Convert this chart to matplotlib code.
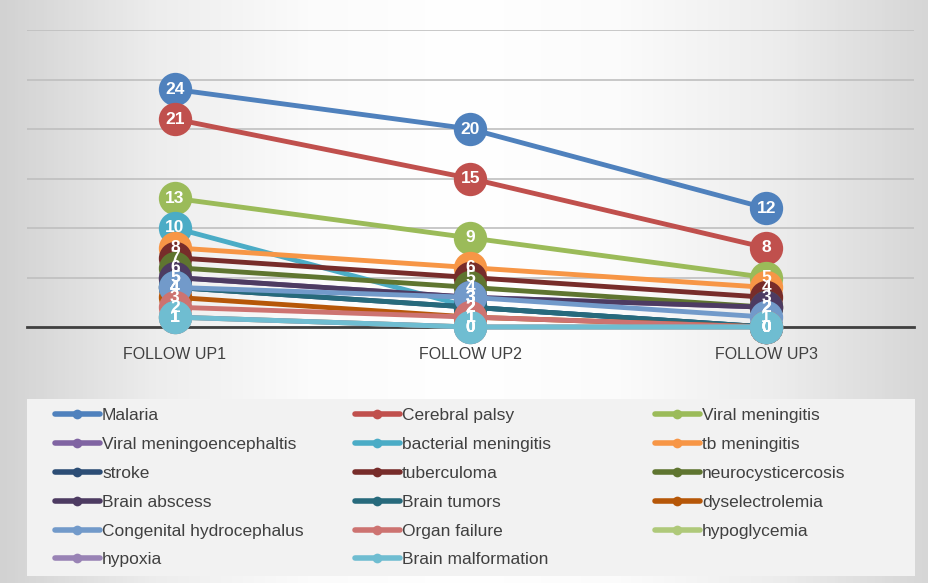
import numpy as np
import matplotlib.pyplot as plt
from matplotlib.colors import LinearSegmentedColormap
from matplotlib.patches import Rectangle

# categories and series
follow_ups = ["FOLLOW UP1", "FOLLOW UP2", "FOLLOW UP3"]

diseases = [
    "Malaria", "Cerebral palsy", "Viral meningitis",
    "Viral meningoencephaltis", "bacterial meningitis", "tb meningitis",
    "stroke", "tuberculoma", "neurocysticercosis",
    "Brain abscess", "Brain tumors", "dyselectrolemia",
    "Congenital hydrocephalus", "Organ failure", "hypoglycemia",
    "hypoxia", "Brain malformation",
]

malaria = [24, 20, 12]
cerebral_palsy = [21, 15, 8]
viral_meningitis = [13, 9, 5]
viral_meningoencephalitis = [5, 3, 2]
bacterial_meningitis = [10, 2, 0]
tb_meningitis = [8, 6, 4]
stroke = [4, 2, 0]
tuberculoma = [7, 5, 3]
neurocysticercosis = [6, 4, 2]
brain_abscess = [5, 3, 2]
brain_tumors = [4, 2, 0]
dyselectrolemia = [3, 1, 0]
congenital_hydrocephalus = [4, 3, 1]
organ_failure = [2, 1, 0]
hypoglycemia = [1, 0, 0]
hypoxia = [1, 0, 0]
brain_malformation = [1, 0, 0]

series = [
    malaria, cerebral_palsy, viral_meningitis, viral_meningoencephalitis,
    bacterial_meningitis, tb_meningitis, stroke, tuberculoma,
    neurocysticercosis, brain_abscess, brain_tumors, dyselectrolemia,
    congenital_hydrocephalus, organ_failure, hypoglycemia, hypoxia,
    brain_malformation,
]

colors = [
    "#4F81BD", "#C0504D", "#9BBB59", "#8064A2", "#4BACC6", "#F79646",
    "#2C4D75", "#772C2A", "#5F7530", "#4D3B62", "#276A7C", "#B65708",
    "#729ACA", "#CD7371", "#AFC97A", "#9983B5", "#6FBDD1",
]

W, H = 929, 583
fig = plt.figure(figsize=(W / 100, H / 100), dpi=100)

# background with a soft grey-to-white gradient
bg = fig.add_axes([0, 0, 1, 1])
cmap = LinearSegmentedColormap.from_list(
    "bg", ["#D2D2D2", "#EDEDED", "#FBFBFB", "#FFFFFF", "#FBFBFB", "#EDEDED",
           "#D6D6D6"])
grad = np.linspace(0, 1, 256).reshape(1, -1)
bg.imshow(grad, cmap=cmap, aspect="auto", extent=[0, W, 0, H])
bg.set_xlim(0, W)
bg.set_ylim(0, H)
bg.axis("off")

ax = fig.add_axes([27 / W, 1 - 327 / H, 887 / W, 297 / H])
ax.patch.set_alpha(0)

x = np.arange(len(follow_ups))
for i, (vals, c) in enumerate(zip(series, colors)):
    ax.plot(x, vals, color=c, lw=3.5, marker="o", ms=24, mew=0,
            solid_capstyle="round", zorder=3 + i, clip_on=False)

# data labels on top of all markers
for vals in series:
    for xi, v in zip(x, vals):
        ax.text(xi, v, str(v), ha="center", va="center", color="white",
                fontsize=12.5, fontweight="bold", zorder=100,
                family="Liberation Sans")

ax.set_xlim(-0.5, 2.5)
ax.set_ylim(0, 30)
ax.set_yticks(range(0, 31, 5))
ax.yaxis.grid(True, color="#BFBFBF", lw=1.2)
ax.set_axisbelow(True)
ax.set_yticklabels([])
ax.set_xticks(x)
ax.set_xticklabels(follow_ups, fontsize=11.5, color="#404040",
                   family="Liberation Sans")
ax.tick_params(left=False, bottom=False, pad=11)
for s in ["top", "left", "right"]:
    ax.spines[s].set_visible(False)
ax.spines["bottom"].set_color("#404040")
ax.spines["bottom"].set_linewidth(2)
ax.spines["bottom"].set_zorder(2)

# legend drawn by hand, row-wise like the original (pixel coordinates)
bg.add_patch(Rectangle((27, H - 576), 888, 177, facecolor="#F2F2F2",
                       edgecolor="none", zorder=1))
col_x = [55, 355, 655]
row_y = [414, 443, 472, 501, 530, 558]
for k, (name, c) in enumerate(zip(diseases, colors)):
    cx = col_x[k % 3]
    cy = H - row_y[k // 3]
    bg.plot([cx, cx + 45], [cy, cy], color=c, lw=4, solid_capstyle="round",
            zorder=2)
    bg.plot([cx + 22.5], [cy], marker="o", ms=7, mew=0, color=c, zorder=3)
    bg.text(cx + 47, cy, name, ha="left", va="center_baseline",
            color="#404040", fontsize=12.5, family="Liberation Sans",
            zorder=3)

fig.savefig("out.png", dpi=100)
